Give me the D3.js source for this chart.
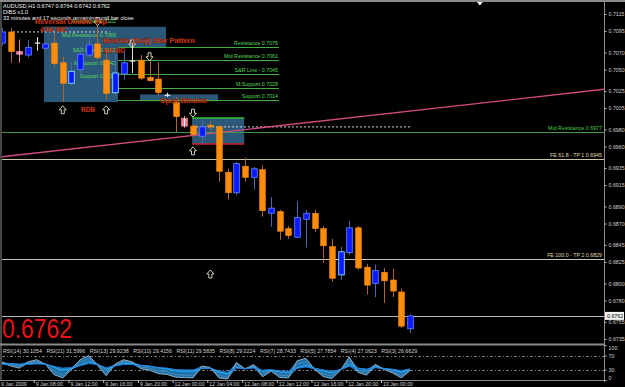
<!DOCTYPE html>
<html><head><meta charset="utf-8">
<script src="https://cdn.jsdelivr.net/npm/d3@7"></script>
<style>body{margin:0;background:#000;overflow:hidden}svg{display:block}text{font-family:"Liberation Sans",Arial,sans-serif}</style>
</head><body>
<svg id="c" width="625" height="387"></svg>
<script>
// ---------- DATA ----------
const candleOpen  = [0.7081,0.7094,0.7071,0.7067,0.7081,0.7075,0.7081,0.7058,0.7034,0.7050,0.7067,0.7080,0.7061,0.7023,0.7045,0.7060,0.7061,0.7041,0.7039,0.7020,0.7012,0.6993,0.6984,0.6972,0.6985,0.6983,0.6930,0.6906,0.6937,0.6924,0.6933,0.6882,0.6884,0.6864,0.6854,0.6875,0.6882,0.6864,0.6843,0.6810,0.6836,0.6865,0.6819,0.6800,0.6813,0.6804,0.6790,0.6747];
const candleHigh  = [0.7099,0.7099,0.7085,0.7085,0.7088,0.7082,0.7093,0.7065,0.7059,0.7076,0.7093,0.7102,0.7073,0.7073,0.7073,0.7081,0.7067,0.7061,0.7059,0.7023,0.7018,0.6996,0.6986,0.6991,0.6989,0.6985,0.6934,0.6942,0.6947,0.6936,0.6938,0.6901,0.6886,0.6867,0.6896,0.6886,0.6886,0.6867,0.6852,0.6843,0.6873,0.6867,0.6823,0.6822,0.6818,0.6817,0.6794,0.6764];
const candleLow   = [0.7078,0.7058,0.7058,0.7064,0.7072,0.7073,0.7053,0.7012,0.7032,0.7044,0.7064,0.7061,0.7015,0.7020,0.7038,0.7046,0.7038,0.7036,0.7020,0.7018,0.6977,0.6982,0.6971,0.6962,0.6979,0.6919,0.6898,0.6903,0.6919,0.6910,0.6878,0.6866,0.6851,0.6852,0.6853,0.6842,0.6860,0.6824,0.6802,0.6804,0.6833,0.6816,0.6787,0.6784,0.6777,0.6784,0.6748,0.6742];
const candleClose = [0.7094,0.7071,0.7068,0.7076,0.7081,0.7080,0.7057,0.7034,0.7048,0.7068,0.7079,0.7064,0.7022,0.7046,0.7058,0.7060,0.7040,0.7037,0.7023,0.7020,0.6995,0.6984,0.6974,0.6983,0.6983,0.6931,0.6906,0.6940,0.6924,0.6934,0.6885,0.6888,0.6861,0.6856,0.6877,0.6882,0.6864,0.6844,0.6806,0.6837,0.6865,0.6818,0.6798,0.6815,0.6803,0.6791,0.6750,0.6762];
const pinkCandles = [2, 21];
const cyanCandles = [8, 13, 39];

const priceTicks = [0.7115,0.7095,0.7070,0.7050,0.7025,0.7005,0.6980,0.6960,0.6935,0.6915,0.6890,0.6870,0.6845,0.6825,0.6800,0.6780,0.6755,0.6735];
const lastPrice = 0.6762;

const timeLabels = ["9 Jan 2009","9 Jan 08:00","9 Jan 12:00","9 Jan 16:00","9 Jan 20:00","12 Jan 00:00","12 Jan 04:00","12 Jan 08:00","12 Jan 12:00","12 Jan 16:00","12 Jan 20:00","13 Jan 00:00"];
const timeLabelIndex = [0,4,8,12,16,20,24,28,32,36,40,44];

const srLabels = ["Resistance 0.7076","Mid Resistance 0.7061","S&R Line - 0.7045","M.Support 0.7028","Support 0.7014"];
const srValues = [0.7076,0.7061,0.7045,0.7028,0.7014];
const oldSrLabels = ["Resistance 0.7102","Mid Resistance 0.7089","S&R Line - 0.7065","M.Support 0.7042","Support 0.7214"];
const oldSrValues = [0.7104,0.7088,0.7071,0.7055,0.7040];

const fullLevelLabels = ["Mid Resistance 0.6977","FE 61.8 -  TP 1 0.6945","FE 100.0 - TP 2 0.6829"];
const fullLevelValues = [0.6977,0.6945,0.6829];

const rsi3  = [52,40,34,52,58,45,15,6,30,58,70,42,12,45,58,52,32,28,18,16,8,7,6,40,36,6,3,50,32,44,9,25,7,6,55,62,30,10,4,28,66,22,14,45,30,20,6,26.7];
const rsi7  = [48,44,40,48,53,46,24,14,30,50,62,45,20,43,53,50,37,34,26,23,15,14,13,37,35,13,8,44,32,40,16,26,14,12,46,52,32,18,11,29,55,28,22,41,31,24,12,28.7];
const rsi14 = [46,47,45,46,48,46,36,28,33,42,52,46,30,40,48,47,42,40,35,32,26,25,25,33,33,22,17,36,32,36,25,28,23,22,35,42,34,26,20,30,45,34,30,37,33,29,22,30.1];
const rsi21 = [45,46,45,45,46,45,39,34,36,41,47,44,35,40,44,44,41,39,36,34,30,29,29,33,33,26,22,34,32,34,28,30,26,25,33,37,33,29,25,30,39,33,31,35,33,31,27,31.6];
const rsiLegend = ["RSI(14) 30.1054","RSI(21) 31.5996","RSI(13) 29.9238","RSI(10) 29.4156","RSI(11) 29.5835","RSI(8) 29.0224","RSI(7) 28.7433","RSI(5) 27.7854","RSI(4) 27.0623","RSI(3) 26.6629"];
const rsiTicks = [100,70,30,0];

const upArrows = [{i:7,p:0.7003},{i:12,p:0.7003},{i:22,p:0.6955},{i:24,p:0.6811}];
const downArrows = [{i:11,p:0.7106},{i:15,p:0.7080},{i:17,p:0.7065},{i:22,p:0.6999}];

// ---------- SCALES ----------
const svg = d3.select("#c");
svg.append("rect").attr("width",625).attr("height",387).attr("fill","#000");
const x = d3.scaleLinear().domain([0,47]).range([2,410]);
const y = d3.scaleLinear().domain([0.6735,0.7115]).range([339,14]);
const yr = d3.scaleLinear().domain([0,100]).range([380,345]);
const RIGHT = 604;

svg.append("clipPath").attr("id","mainClip").append("rect").attr("x",2).attr("y",2).attr("width",RIGHT-2).attr("height",341);
svg.append("clipPath").attr("id","rsiClip").append("rect").attr("x",2).attr("y",346).attr("width",RIGHT-2).attr("height",34);
const main = svg.append("g").attr("clip-path","url(#mainClip)");

// ---------- BOXES ----------
const boxColor = "#2b5879";
function box(i0,i1,p0,p1){
  return main.append("rect").attr("x",x(i0)).attr("width",x(i1)-x(i0))
    .attr("y",y(p0)).attr("height",y(p1)-y(p0)).attr("fill",boxColor);
}
box(4.84,18.9,0.7100,0.70764);
box(4.84,13.36,0.7100,0.7012);
box(15.9,24.9,0.7021,0.7013);
box(21.9,27.9,0.69934,0.6963);
main.append("line").attr("x1",x(21.9)).attr("x2",x(27.9)).attr("y1",y(0.69934)).attr("y2",y(0.69934)).attr("stroke","#2fc02f").attr("stroke-width",1.5);
main.append("line").attr("x1",x(21.9)).attr("x2",x(27.9)).attr("y1",y(0.6963)).attr("y2",y(0.6963)).attr("stroke","#d02020").attr("stroke-width",1.5);

// ---------- LEVEL LINES ----------
srValues.forEach((v,k)=>{
  main.append("line").attr("x1",x(13.36)).attr("x2",279).attr("y1",Math.round(y(v))+0.5).attr("y2",Math.round(y(v))+0.5).attr("stroke","#3fae3f").attr("stroke-width",1);
  main.append("text").attr("x",278).attr("y",y(v)-2).attr("text-anchor","end").attr("font-size",5.3).attr("fill","#5ad65a").text(srLabels[k]);
});
oldSrValues.forEach((v,k)=>{
  main.append("text").attr("x",116).attr("y",y(v)).attr("text-anchor","end").attr("font-size",5.3).attr("fill","#5ad65a").text(oldSrLabels[k]);
});
const fullColors = ["#3f9a3f","#c8c4a8","#c8c8c0"];
const fullText = ["#4ccc4c","#e0dcb0","#e0dcb0"];
fullLevelValues.forEach((v,k)=>{
  main.append("line").attr("x1",2).attr("x2",RIGHT).attr("y1",Math.round(y(v))+0.5).attr("y2",Math.round(y(v))+0.5).attr("stroke",fullColors[k]).attr("stroke-width",1);
  main.append("text").attr("x",602).attr("y",y(v)-2).attr("text-anchor","end").attr("font-size",5.3).attr("fill",fullText[k]).text(fullLevelLabels[k]);
});
main.append("line").attr("x1",2).attr("x2",RIGHT).attr("y1",Math.round(y(lastPrice))+0.5).attr("y2",Math.round(y(lastPrice))+0.5).attr("stroke","#b8b8b8");
// dotted lines
main.append("line").attr("x1",x(1.27)).attr("x2",x(12.4)).attr("y1",y(0.7094)).attr("y2",y(0.7094)).attr("stroke","#d8d8d8").attr("stroke-dasharray","2,2");
main.append("line").attr("x1",x(21.9)).attr("x2",x(47)).attr("y1",y(0.6983)).attr("y2",y(0.6983)).attr("stroke","#d8d8d8").attr("stroke-dasharray","2,2");

// ---------- TREND LINE ----------
const trendA = {i:0,p:0.6948}, trendB = {i:47,p:0.70015};
const slope = (trendB.p-trendA.p)/(trendB.i-trendA.i);
const iEnd = x.invert(RIGHT);
main.append("line").attr("x1",x(trendA.i)).attr("y1",y(trendA.p)).attr("x2",x(iEnd)).attr("y2",y(trendA.p+slope*iEnd))
  .attr("stroke","#d24a82").attr("stroke-width",1.4);

// ---------- CANDLES ----------
const candles = candleOpen.map((o,i)=>({i,o,h:candleHigh[i],l:candleLow[i],c:candleClose[i]}));
const bw = 5.6;
const cg = main.append("g");
candles.forEach(d=>{
  const up = d.c>d.o, doji = d.c===d.o, pink = pinkCandles.includes(d.i);
  const wick = doji ? "#e0e0e0" : pink ? "#e08090" : up ? "#4a68b0" : "#b0642a";
  const cx = Math.round(x(d.i))+0.5;
  cg.append("line").attr("x1",cx).attr("x2",cx).attr("y1",y(d.h)).attr("y2",y(d.l)).attr("stroke",wick).attr("stroke-width",1);
  if(doji){
    cg.append("line").attr("x1",cx-bw/2).attr("x2",cx+bw/2).attr("y1",y(d.o)).attr("y2",y(d.o)).attr("stroke","#f0f0f0").attr("stroke-width",1.2);
    return;
  }
  const top = y(Math.max(d.o,d.c)), bot = y(Math.min(d.o,d.c));
  const r = cg.append("rect").attr("x",cx-bw/2).attr("width",bw).attr("y",top).attr("height",Math.max(1.5,bot-top));
  if(pink){
    r.attr("fill","#f07a92").attr("stroke","#f07a92");
    cg.append("line").attr("x1",cx).attr("x2",cx).attr("y1",top).attr("y2",top+Math.max(1.5,bot-top)).attr("stroke","#ffffff").attr("stroke-width",1);
  } else if(up){
    r.attr("fill","#0c18ff").attr("stroke",cyanCandles.includes(d.i)?"#7fe0ff":"#5a7cff").attr("stroke-width",0.9);
  } else {
    r.attr("fill","#ff8c0a").attr("stroke","#ff8c0a").attr("stroke-width",0.6);
  }
});

// ---------- ARROWS ----------
const arrowColor = "#e6e2c4";
upArrows.forEach(a=>{
  const cx=x(a.i), cy=y(a.p);
  main.append("path").attr("d",`M${cx},${cy-4}L${cx+3.5},${cy}L${cx+1.5},${cy}L${cx+1.5},${cy+4}L${cx-1.5},${cy+4}L${cx-1.5},${cy}L${cx-3.5},${cy}Z`)
    .attr("fill","none").attr("stroke",arrowColor).attr("stroke-width",0.9);
});
downArrows.forEach(a=>{
  const cx=x(a.i), cy=y(a.p);
  main.append("path").attr("d",`M${cx},${cy+4}L${cx+3.5},${cy}L${cx+1.5},${cy}L${cx+1.5},${cy-4}L${cx-1.5},${cy-4}L${cx-1.5},${cy}L${cx-3.5},${cy}Z`)
    .attr("fill","none").attr("stroke",arrowColor).attr("stroke-width",0.9);
});
main.append("path").attr("d",`M${x(55.05)-3},2L${x(55.05)+3},2L${x(55.05)},5.5Z`).attr("fill","#f0f0f0");

// ---------- ANNOTATION TEXT ----------
const hdr = svg.append("g").attr("fill","#f0f0f0").attr("font-size",5.6);
hdr.append("text").attr("x",3).attr("y",7.5).text("AUDUSD,H1  0.6747 0.6764 0.6742 0.6762");
hdr.append("text").attr("x",3).attr("y",13.5).text("DIBS v1.0");
hdr.append("text").attr("x",3).attr("y",19.5).text("33 minutes and 17 seconds remaining until bar close");

function redText(t,x0,y0,w,fs){
  svg.append("text").attr("x",x0).attr("y",y0).attr("font-size",fs).attr("font-weight","bold").attr("fill","#ff4a1c")
    .attr("stroke","#5a1000").attr("stroke-width",0.3).attr("textLength",w).attr("lengthAdjust","spacingAndGlyphs").text(t);
}
redText("Reversal Double Top",35,24,72,7.6);
redText("4 Hr MC",40,32,27,7.2);
redText("Bearish (Doji) Star Pattern",103,43,92,7.2);
redText("1Hr MC",103,53,22,7);
redText("RDB",81,112,14,7);
redText("Open Window",160,103,47,7.2);

svg.append("text").attr("x",2).attr("y",338).attr("font-size",27).attr("fill","#e8141a")
  .attr("textLength",70).attr("lengthAdjust","spacingAndGlyphs").text("0.6762");

// ---------- FRAME & AXES ----------
const frame = "#8a8a8a";
svg.append("line").attr("x1",0).attr("x2",625).attr("y1",1).attr("y2",1).attr("stroke",frame).attr("stroke-width",2);
svg.append("line").attr("x1",1).attr("x2",1).attr("y1",0).attr("y2",381).attr("stroke",frame);
svg.append("line").attr("x1",0).attr("x2",RIGHT).attr("y1",344.5).attr("y2",344.5).attr("stroke",frame).attr("stroke-width",2);
svg.append("line").attr("x1",0).attr("x2",RIGHT).attr("y1",380.5).attr("y2",380.5).attr("stroke",frame);

const ax = svg.append("g").attr("transform",`translate(${RIGHT+0.5},0)`)
  .call(d3.axisRight(y).tickValues(priceTicks).tickFormat(d3.format(".4f")).tickSize(2).tickPadding(2));
ax.select(".domain").attr("stroke",frame).attr("d","M0,0V382");
ax.selectAll(".tick line").attr("stroke","#c0c0c0");
ax.selectAll("text").attr("fill","#d0d0d0").attr("font-size",5.3).attr("font-family","Liberation Sans, Arial, sans-serif");

svg.append("rect").attr("x",RIGHT+1).attr("y",y(lastPrice)-4).attr("width",19).attr("height",8).attr("fill","#f4f4f4");
svg.append("text").attr("x",RIGHT+3).attr("y",y(lastPrice)+2).attr("font-size",5.3).attr("fill","#000").text(lastPrice.toFixed(4));

const rax = svg.append("g").attr("transform",`translate(${RIGHT+0.5},0)`)
  .call(d3.axisRight(yr).tickValues(rsiTicks).tickSize(2).tickPadding(2));
rax.select(".domain").remove();
rax.selectAll(".tick line").attr("stroke","#c0c0c0");
rax.selectAll("text").attr("fill","#d0d0d0").attr("font-size",5.3).attr("font-family","Liberation Sans, Arial, sans-serif")
  .attr("dy",d=>d===100?"0.9em":d===0?"-0.1em":"0.32em");

// time axis
timeLabelIndex.forEach((ti,k)=>{
  const tx = x(ti);
  svg.append("line").attr("x1",tx-2.5).attr("x2",tx-2.5).attr("y1",380).attr("y2",383).attr("stroke","#c0c0c0");
  svg.append("text").attr("x",tx-1).attr("y",386).attr("font-size",5.2).attr("fill","#d0d0d0").text(timeLabels[k]);
});

// ---------- RSI PANEL ----------
[70,30].forEach(v=>{
  svg.append("line").attr("x1",2).attr("x2",RIGHT).attr("y1",Math.round(yr(v))+0.5).attr("y2",Math.round(yr(v))+0.5)
    .attr("stroke","#9a9a9a").attr("stroke-dasharray","3,2,1,2").attr("stroke-width",0.8);
});
const rg = svg.append("g").attr("clip-path","url(#rsiClip)");
const allRsi = [rsi3,rsi7,rsi14,rsi21];
const area = d3.area().x((d,i)=>x(i)).y0((d,i)=>yr(d3.min(allRsi,s=>s[i]))).y1((d,i)=>yr(d3.max(allRsi,s=>s[i])));
rg.append("path").datum(rsi14).attr("d",area).attr("fill","#1d8fd6").attr("opacity",0.8);
const line = d3.line().x((d,i)=>x(i)).y(d=>yr(d));
const rsiColors = ["#9fb6cc","#5c86b0","#34b4ff","#1e7fe0"];
allRsi.forEach((s,k)=>{
  rg.append("path").datum(s).attr("d",line).attr("fill","none").attr("stroke",rsiColors[k]).attr("stroke-width",0.9);
});
let lx = 3;
rsiLegend.forEach(t=>{
  const tt = svg.append("text").attr("x",lx).attr("y",352.5).attr("font-size",5.3).attr("fill","#d4d4d4").text(t);
  lx += tt.node().getComputedTextLength() + 4.5;
});
</script>
</body></html>
